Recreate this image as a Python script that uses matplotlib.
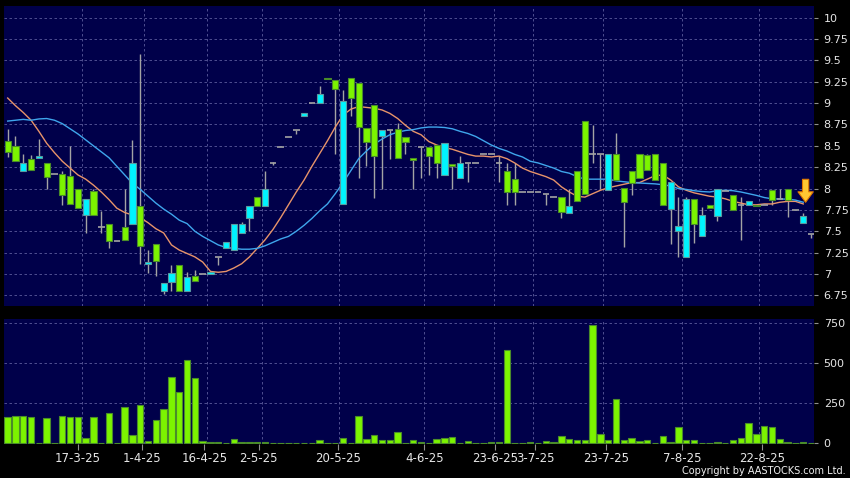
import numpy as np
import matplotlib.pyplot as plt

# one slot per session shown on the chart (left to right)
opens = [8.56, 8.50, 8.20, 8.35, 8.36, 8.30, 8.17, 8.17, 8.15, 7.99,
         7.69, 7.97, 7.55, 7.59, 7.39, 7.55, 7.58, 7.80, 7.12, 7.35,
         6.80, 6.91, 7.10, 6.80, 6.98, 7.00, 7.00, 7.20, 7.30, 7.28,
         7.48, 7.66, 7.90, 7.80, 8.30, 8.49, 8.60, 8.69, 8.85, 9.00,
         9.00, 9.30, 9.27, 7.82, 9.29, 9.24, 8.71, 8.98, 8.62, 8.68,
         8.70, 8.60, 8.36, 8.49, 8.49, 8.51, 8.16, 8.29, 8.12, 8.30,
         8.30, 8.40, 8.40, 8.30, 8.21, 8.11, 7.96, 7.96, 7.96, 7.94,
         7.90, 7.90, 7.71, 8.21, 8.79, 8.40, 8.40, 7.98, 8.40, 8.01,
         8.20, 8.40, 8.39, 8.40, 8.30, 7.76, 7.50, 7.20, 7.88, 7.44,
         7.81, 7.68, 7.97, 7.92, 7.81, 7.81, 7.81, 7.81, 7.98, 7.88,
         7.99, 7.75, 7.60, 7.47]
highs = [8.70, 8.61, 8.41, 8.39, 8.58, 8.30, 8.17, 8.20, 8.50, 7.99,
         7.88, 8.00, 7.74, 7.59, 7.39, 8.00, 8.57, 9.58, 7.28, 7.35,
         6.90, 7.10, 7.10, 7.02, 7.05, 7.00, 7.02, 7.20, 7.38, 7.58,
         7.61, 7.80, 7.90, 8.20, 8.31, 8.49, 8.60, 8.69, 8.88, 9.00,
         9.20, 9.30, 9.27, 9.15, 9.29, 9.24, 8.71, 8.98, 8.68, 8.68,
         8.77, 8.60, 8.36, 8.49, 8.49, 8.51, 8.53, 8.29, 8.38, 8.30,
         8.30, 8.40, 8.40, 8.38, 8.30, 8.30, 7.96, 7.96, 7.96, 7.94,
         7.90, 7.90, 8.00, 8.21, 8.79, 8.74, 8.40, 8.40, 8.65, 8.01,
         8.20, 8.40, 8.40, 8.40, 8.30, 8.08, 7.90, 7.90, 7.88, 7.78,
         7.81, 7.99, 7.97, 7.92, 7.90, 7.85, 7.81, 7.81, 7.98, 8.00,
         7.99, 7.75, 7.71, 7.47]
lows = [8.37, 8.32, 8.20, 8.22, 8.36, 8.00, 8.17, 7.81, 7.82, 7.77,
        7.48, 7.69, 7.48, 7.30, 7.39, 7.40, 7.58, 7.12, 7.01, 6.98,
        6.76, 6.80, 6.80, 6.80, 6.92, 7.00, 7.00, 7.10, 7.30, 7.28,
        7.48, 7.50, 7.80, 7.80, 8.28, 8.49, 8.60, 8.64, 8.85, 9.00,
        9.00, 9.28, 8.41, 7.82, 8.85, 8.12, 8.26, 7.89, 8.00, 8.35,
        8.36, 8.40, 8.00, 8.12, 8.16, 8.12, 8.16, 8.00, 8.12, 8.08,
        8.30, 8.40, 8.40, 8.08, 7.81, 7.81, 7.96, 7.96, 7.96, 7.81,
        7.90, 7.65, 7.71, 7.85, 7.94, 8.30, 8.00, 7.98, 8.10, 7.32,
        7.93, 8.12, 8.22, 8.10, 7.81, 7.35, 7.20, 7.20, 7.36, 7.44,
        7.77, 7.62, 7.97, 7.75, 7.40, 7.81, 7.80, 7.81, 7.81, 7.88,
        7.67, 7.75, 7.60, 7.42]
closes = [8.43, 8.32, 8.30, 8.22, 8.38, 8.13, 8.17, 7.93, 7.82, 7.77,
          7.88, 7.69, 7.55, 7.39, 7.39, 7.40, 8.30, 7.33, 7.14, 7.15,
          6.90, 7.01, 6.80, 6.96, 6.92, 7.00, 7.02, 7.20, 7.38, 7.58,
          7.59, 7.80, 7.80, 8.00, 8.30, 8.49, 8.60, 8.69, 8.88, 9.00,
          9.11, 9.28, 9.17, 9.03, 9.06, 8.72, 8.55, 8.38, 8.68, 8.68,
          8.36, 8.54, 8.33, 8.49, 8.38, 8.30, 8.53, 8.27, 8.30, 8.30,
          8.30, 8.40, 8.40, 8.30, 7.96, 7.96, 7.96, 7.96, 7.96, 7.94,
          7.90, 7.72, 7.80, 7.85, 7.94, 8.40, 8.40, 8.40, 8.10, 7.84,
          8.07, 8.12, 8.22, 8.10, 7.81, 8.08, 7.56, 7.88, 7.58, 7.69,
          7.77, 7.99, 7.97, 7.75, 7.81, 7.85, 7.80, 7.81, 7.87, 7.88,
          7.87, 7.75, 7.68, 7.47]
volumes = [162, 171, 171, 165, 0, 160, 0, 171, 167, 167,
           33, 162, 5, 190, 3, 225, 50, 238, 15, 146,
           217, 412, 324, 521, 408, 15, 8, 6, 3, 27,
           10, 6, 6, 6, 4, 2, 2, 4, 4, 2,
           21, 2, 2, 31, 5, 173, 27, 52, 21, 21,
           72, 3, 20, 6, 0, 27, 32, 42, 4, 13,
           0, 0, 7, 6, 583, 0, 2, 6, 0, 15,
           6, 47, 28, 22, 18, 740, 56, 18, 275, 18,
           36, 17, 18, 3, 43, 7, 101, 18, 21, 2,
           2, 6, 2, 18, 33, 126, 58, 106, 101, 28,
           6, 0, 11, 0]
ma_short = [9.06, 8.97, 8.89, 8.80, 8.67, 8.53, 8.42, 8.32, 8.24, 8.16,
            8.11, 8.04, 7.96, 7.87, 7.77, 7.72, 7.69, 7.66, 7.60, 7.53,
            7.48, 7.34, 7.28, 7.24, 7.20, 7.14, 7.03, 7.02, 7.03, 7.07,
            7.12, 7.20, 7.30, 7.40, 7.52, 7.66, 7.81, 7.96, 8.10, 8.26,
            8.41, 8.56, 8.72, 8.86, 8.93, 8.96, 8.95, 8.94, 8.92, 8.88,
            8.82, 8.74, 8.67, 8.63, 8.55, 8.51, 8.48, 8.46, 8.43, 8.40,
            8.38, 8.38, 8.37, 8.38, 8.35, 8.30, 8.24, 8.20, 8.17, 8.14,
            8.10, 8.02, 7.96, 7.91, 7.90, 7.94, 7.98, 8.01, 8.03, 8.05,
            8.07, 8.07, 8.11, 8.15, 8.16, 8.10, 8.02, 7.98, 7.95, 7.93,
            7.91, 7.90, 7.88, 7.85, 7.83, 7.81, 7.81, 7.82, 7.82, 7.84,
            7.85, 7.85, 7.82]
ma_long = [8.79, 8.80, 8.81, 8.80, 8.815, 8.82, 8.80, 8.76, 8.70, 8.64,
           8.57, 8.50, 8.43, 8.36, 8.26, 8.16, 8.06, 7.99, 7.91, 7.83,
           7.76, 7.70, 7.63, 7.59, 7.50, 7.44, 7.39, 7.34, 7.31, 7.30,
           7.29, 7.29, 7.30, 7.33, 7.37, 7.41, 7.44, 7.50, 7.57, 7.65,
           7.74, 7.82, 7.94, 8.07, 8.21, 8.35, 8.44, 8.52, 8.58, 8.63,
           8.66, 8.68, 8.69, 8.71, 8.72, 8.72, 8.715, 8.70, 8.67, 8.645,
           8.61, 8.56, 8.51, 8.47, 8.44, 8.40, 8.37, 8.32, 8.30, 8.27,
           8.24, 8.20, 8.18, 8.14, 8.11, 8.11, 8.11, 8.11, 8.09, 8.08,
           8.07, 8.065, 8.06, 8.055, 8.045, 8.03, 8.00, 7.99, 7.975, 7.965,
           7.96, 7.975, 7.98, 7.975, 7.96, 7.94, 7.92, 7.895, 7.88, 7.877,
           7.877, 7.865, 7.84]

date_labels = ['17-3-25', '1-4-25', '16-4-25', '2-5-25', '20-5-25', '4-6-25',
               '23-6-25', '3-7-25', '23-7-25', '7-8-25', '22-8-25']
date_pos = [9.0, 17.2, 25.2, 32.2, 42.35, 53.4, 62.5, 67.6, 76.7, 86.45, 96.7]
grid_pos = [9.5, 17.5, 25.55, 32.55, 42.45, 53.4, 62.4, 67.4, 76.35, 86.4, 96.35]

price_ticks = np.arange(6.75, 10.01, 0.25)
vol_ticks = [0, 250, 500, 750]

panel = '#00004a'
grid_col = '#5c5c9c'
green = '#7cf400'
green_edge = '#4a8c2a'
cyan = '#00f4ff'
cyan_edge = '#5a9aa0'
wick = '#a4a4a4'

fig = plt.figure(figsize=(8.5, 4.78), dpi=100, facecolor='black')
ax = fig.add_axes([0.005, 0.3598, 0.9526, 0.6276], facecolor=panel)
ax2 = fig.add_axes([0.005, 0.0711, 0.9526, 0.2615], facecolor=panel)

x = np.arange(len(closes))
o = np.array(opens)
h = np.array(highs)
l = np.array(lows)
c = np.array(closes)
up = c > o
down = c < o
flat = c == o
lo = np.minimum(o, c)
hgt = np.abs(c - o)

# price panel
for gx in grid_pos:
    ax.axvline(gx, color=grid_col, lw=0.6, ls=(0, (3, 3)), zorder=1)
for gy in price_ticks:
    ax.axhline(gy, color=grid_col, lw=0.6, ls=(0, (3, 3)), zorder=1)

ax.vlines(x[~flat | (h > l)], l[~flat | (h > l)], h[~flat | (h > l)],
          color=wick, lw=1.0, zorder=2)
ax.bar(x[up], hgt[up], 0.78, bottom=lo[up], color=cyan,
       edgecolor=cyan_edge, lw=0.8, zorder=4)
ax.bar(x[down], hgt[down], 0.78, bottom=lo[down], color=green,
       edgecolor=green_edge, lw=0.8, zorder=4)
ax.hlines(o[flat], x[flat] - 0.42, x[flat] + 0.42, color=wick, lw=1.2, zorder=4)

xm = np.arange(len(ma_short))
ax.plot(xm, ma_short, color='#e8946a', lw=1.0, zorder=3)
ax.plot(xm, ma_long, color='#3fa6ec', lw=1.0, zorder=3)

# signal arrow at the end of the averages
ax.annotate('', xy=(xm[-1] + 0.3, ma_long[-1]), xytext=(0, 16.5),
            textcoords='offset points',
            arrowprops=dict(arrowstyle='simple,head_length=0.75,head_width=1.1,tail_width=0.45',
                            fc='#ffc832', ec='#e07800', lw=0.8,
                            shrinkA=0, shrinkB=0), zorder=6)

ax.set_xlim(-0.44, 103.37)
ax.set_ylim(6.625, 10.137)
ax.set_xticks([])
ax.yaxis.tick_right()
ax.set_yticks(price_ticks)
ax.set_yticklabels(['%g' % t for t in price_ticks])

# volume panel
for gx in grid_pos:
    ax2.axvline(gx, color=grid_col, lw=0.6, ls=(0, (3, 3)), zorder=1)
for gy in vol_ticks[1:]:
    ax2.axhline(gy, color=grid_col, lw=0.6, ls=(0, (3, 3)), zorder=1)
ax2.bar(x, volumes, 0.82, color=green, edgecolor=green_edge, lw=0.8, zorder=3)
ax2.set_xlim(-0.44, 103.37)
ax2.set_ylim(-4, 777)
ax2.yaxis.tick_right()
ax2.set_yticks(vol_ticks)
ax2.set_xticks(date_pos)
ax2.set_xticklabels(date_labels)

for a in (ax, ax2):
    for s in a.spines.values():
        s.set_visible(False)
    a.tick_params(axis='y', length=3, width=0.8, color='#909090',
                  labelcolor='#e6e6e6', labelsize=8, pad=4)
ax2.tick_params(axis='x', length=4, width=0.8, color='#909090',
                labelcolor='#e6e6e6', labelsize=8.5, pad=2)

fig.text(0.995, 0.004, 'Copyright by AASTOCKS.com Ltd.', ha='right', va='bottom',
         color='#f0f0f0', fontsize=7)

fig.savefig('out.png', dpi=100, facecolor='black')
